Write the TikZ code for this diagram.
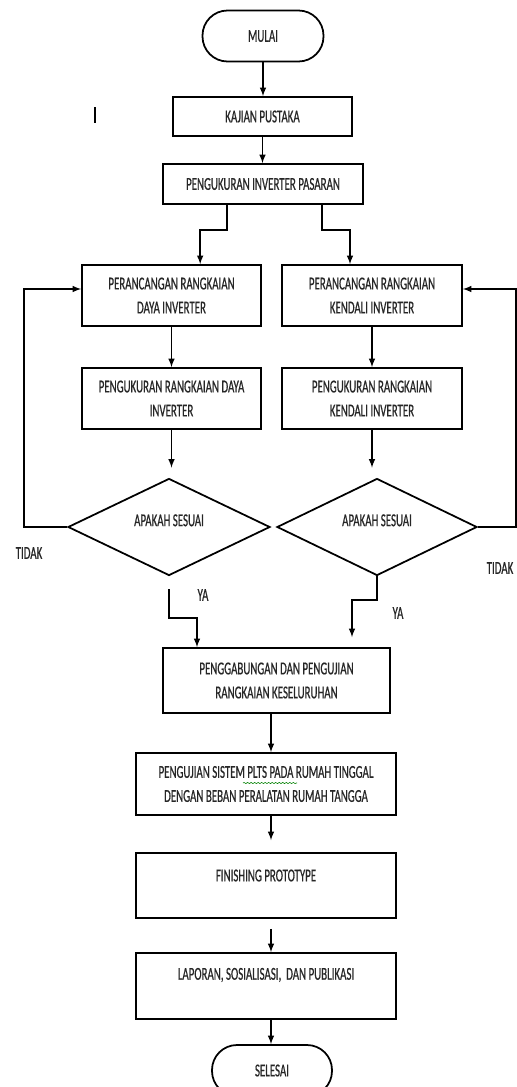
\documentclass[tikz,border=0pt]{standalone}
\usepackage{fontspec}
\setmainfont{Carlito}[FakeStretch=0.6, FakeBold=0.6]
\usetikzlibrary{shapes.geometric,decorations.pathmorphing}

\tikzset{
  teks/.style={font=\fontsize{15.5}{20.5}\selectfont, text=black!85},
  kotak/.style={teks, draw, line width=1.5pt, align=center, inner sep=0pt},
  proses/.style={kotak, rectangle, minimum width=5.37cm, minimum height=1.83cm},
  terminal/.style={kotak, rectangle, rounded corners=0.75cm, minimum width=3.63cm, minimum height=1.53cm},
  keputusan/.style={kotak, diamond, minimum width=6.06cm, minimum height=2.91cm},
  panah/.style={line width=1.5pt, -latex},
}

\begin{document}
\begin{tikzpicture}[x=0.03cm, y=-0.03cm]
\useasboundingbox (0,0) rectangle (517,1087);

\node[terminal] (mulai) at (263,36) {MULAI};
\node[proses, minimum height=1.17cm] (kajian) at (262.5,116.5) {KAJIAN PUSTAKA};
\node[proses, minimum width=6cm, minimum height=1.2cm] (pasar) at (263,184) {PENGUKURAN INVERTER PASARAN};

\node[proses] (rdaya) at (171.5,295.5) {PERANCANGAN RANGKAIAN\\DAYA INVERTER};
\node[proses, minimum width=5.4cm] (rkendali) at (372,295.5) {PERANCANGAN RANGKAIAN\\KENDALI INVERTER};
\node[proses] (udaya) at (171.5,398.5) {PENGUKURAN RANGKAIAN DAYA\\INVERTER};
\node[proses, minimum width=5.4cm] (ukendali) at (372,398.5) {PENGUKURAN RANGKAIAN\\KENDALI INVERTER};

\node[keputusan, label={[teks, yshift=0.2cm]center:APAKAH SESUAI}] (sdaya) at (169,527) {};
\node[keputusan, minimum width=6cm, label={[teks, yshift=0.2cm]center:APAKAH SESUAI}] (skendali) at (377,527) {};

\node[proses, minimum width=6.81cm, minimum height=1.95cm] (gabung) at (276.5,680.5) {PENGGABUNGAN DAN PENGUJIAN\\RANGKAIAN KESELURUHAN};
\node[proses, minimum width=7.8cm, minimum height=1.86cm] (uji) at (266,784) {PENGUJIAN SISTEM PLTS PADA RUMAH TINGGAL\\DENGAN BEBAN PERALATAN RUMAH TANGGA};
\node[proses, minimum width=7.8cm, minimum height=1.95cm, label={[teks, yshift=0.3cm]center:FINISHING PROTOTYPE}] (finish) at (266,885.5) {};
\node[proses, minimum width=7.8cm, minimum height=1.98cm, label={[teks, yshift=0.33cm]center:LAPORAN, SOSIALISASI,\ \ DAN PUBLIKASI}] (lapor) at (266,986) {};
\node[terminal, minimum width=3.6cm] (selesai) at (272,1070.5) {SELESAI};

\node[teks] (tidak1) at (29,553) {TIDAK};
\node[teks] (tidak2) at (500,568) {TIDAK};
\node[teks] (ya1) at (203,595) {YA};
\node[teks] (ya2) at (398,613) {YA};

\coordinate (cabkiri) at (227,230);
\coordinate (cabkanan) at (322,230);
\coordinate (ulangkiri) at (24,289);
\coordinate (ulangkanan) at (516,289);
\coordinate (yakiri) at (197,618);
\coordinate (yakanan) at (352,600);
\coordinate (tengah) at (271,0);

\draw[line width=2pt] (95,107) -- (95,123);

\draw[panah] (mulai.south) -- (mulai.south |- kajian.north);
\draw[panah] (kajian.south) -- (kajian.south |- pasar.north);
\draw[panah] (pasar.south -| cabkiri) -- (cabkiri) -| ([xshift=0.86cm]rdaya.north);
\draw[panah] (pasar.south -| cabkanan) -- (cabkanan) -| ([xshift=-0.66cm]rkendali.north);
\draw[panah] (rdaya) -- (udaya);
\draw[panah] (rkendali) -- (ukendali);
\draw[panah, shorten >=0.3cm] (udaya.south) -- (udaya.south |- sdaya.north);
\draw[panah, shorten >=0.3cm] (ukendali.south) -- (ukendali.south |- skendali.north);

\draw[panah] (sdaya.west) -| (ulangkiri) -- (ulangkiri -| rdaya.west);
\draw[panah] (skendali.east) -| (ulangkanan) -- (ulangkanan -| rkendali.east);

\draw[panah] ([yshift=-0.39cm]sdaya.south) |- (yakiri) -- (yakiri |- gabung.north);
\draw[panah, shorten >=0.3cm] (skendali.south) |- (yakanan) -- (yakanan |- gabung.north);

\draw[panah] (gabung.south -| tengah) -- (uji.north -| tengah);
\draw[panah, shorten >=0.36cm] (uji.south -| tengah) -- (finish.north -| tengah);
\draw[panah, shorten <=0.3cm] (finish.south -| tengah) -- (lapor.north -| tengah);
\draw[panah] (lapor.south -| tengah) -- (selesai.north -| tengah);

\draw[green!50!black, line width=0.5pt, decorate, decoration={snake, amplitude=0.5pt, segment length=3pt}] (243,783) -- (297,783);
\end{tikzpicture}
\end{document}
